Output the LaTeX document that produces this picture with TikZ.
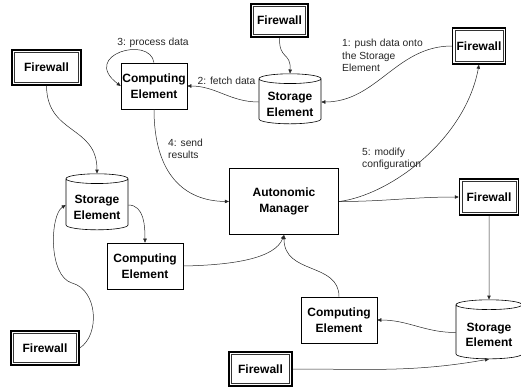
\documentclass[tikz,border=0pt]{standalone}
\usepackage{fontspec}
\setmainfont{Liberation Sans}
\usetikzlibrary{shapes.geometric,arrows.meta}
\newcommand{\stortext}{\raisebox{-3.5pt}[\height][\depth]{\begin{tabular}{@{}c@{}}Storage\\Element\end{tabular}}}
\begin{document}
\begin{tikzpicture}[x=1pt,y=-1pt,
  every node/.style={font=\fontsize{12}{15.5}\selectfont\bfseries},
  box/.style={draw=black, line width=0.6pt, fill=white, align=center, inner sep=1pt},
  fw/.style={draw=black, line width=1.5pt, fill=white, align=center, inner sep=1pt,
    path picture={\draw[line width=0.5pt, black!80]
      ([shift={(2.6pt,-2.6pt)}]path picture bounding box.north west) rectangle
      ([shift={(-2.6pt,2.6pt)}]path picture bounding box.south east);}},
  st/.style={cylinder, shape border rotate=90, draw=black, line width=0.6pt, fill=white,
    aspect=0.2, inner sep=1pt},
  conn/.style={draw=black!85, line width=0.5pt, -{Triangle[length=4pt,width=3.5pt]}},
  lbl/.style={font=\fontsize{10.3}{12.5}\selectfont, text=black!85, inner sep=0pt, align=left}
]
\useasboundingbox (0,0) rectangle (521,389);

% Firewalls
\node[fw, minimum width=69pt, minimum height=35pt] (fwTL) at (46.5,67.5) {Firewall};
\node[fw, minimum width=57pt, minimum height=33pt] (fwT) at (279.5,20.5) {Firewall};
\node[fw, minimum width=53pt, minimum height=36pt] (fwTR) at (479,46) {Firewall};
\node[fw, minimum width=59pt, minimum height=36pt] (fwMR) at (489,197) {Firewall};
\node[fw, minimum width=68pt, minimum height=34pt] (fwBL) at (45,348) {Firewall};
\node[fw, minimum width=63pt, minimum height=34pt] (fwBC) at (260.5,369) {Firewall};

% Computing elements
\node[box, minimum width=66pt, minimum height=46pt] (ceT) at (154,86) {Computing\\Element};
\node[box, minimum width=76pt, minimum height=46pt] (ceBL) at (145,266) {Computing\\Element};
\node[box, minimum width=76pt, minimum height=46pt] (ceBR) at (339,320) {Computing\\Element};

% Autonomic manager
\node[box, line width=1.3pt, minimum width=109pt, minimum height=66pt] (am) at (284,201.5) {Autonomic\\Manager};

% Storage elements
\node[st, minimum width=62pt, minimum height=50pt] (stT) at (290,102) {\stortext};
\node[st, minimum width=62pt, minimum height=56pt] (stL) at (97,205) {\stortext};
\node[st, minimum width=66pt, minimum height=59pt] (stR) at (489,332.5) {\stortext};

% Connectors
\draw[conn] (fwTL.south) .. controls (47,135) and (97,125) .. (stL.north);
\draw[conn] (fwT.south) .. controls (279,60) and (291,52) .. (stT.north);
\draw[conn] (fwTR.west) to[out=180,in=0] (stT.east);
\draw[conn] (stT.west) to[out=180,in=0] (ceT.east);
\draw[conn] (ceT.north) .. controls (150,35) and (80,55) .. (ceT.west);
\draw[conn] (ceT.south) .. controls (154,175) and (185,201) .. (am.west);
\draw[conn] (stL.east) to[out=0,in=90] (ceBL.north);
\draw[conn] (ceBL.east) .. controls (235,265) and (275,258) .. (am.south);
\draw[conn] (ceBR.north) .. controls (339,262) and (284,275) .. (am.south);
\draw[conn] (am.east) to[out=0,in=180] (fwMR.west);
\draw[conn] (am.east) .. controls (390,195) and (465,140) .. (fwTR.south);
\draw[conn] (fwMR.south) -- (stR.north);
\draw[conn] (stR.west) to[out=180,in=0] (ceBR.east);
\draw[conn] (fwBC.east) to[out=0,in=190] (stR.south);
\draw[conn] (fwBL.east) .. controls (100,335) and (98,290) .. (72,283)
  .. controls (48,276) and (50,215) .. (stL.west);

% Labels
\node[lbl] (l3) at (153,43) {3: process data};
\node[lbl] (l2) at (226.5,81) {2: fetch data};
\node[lbl, anchor=west] (l4) at (168,149) {4: send\\results};
\node[lbl, anchor=west] (l1) at (342,55.5) {1: push data onto\\the Storage\\Element};
\node[lbl, anchor=west] (l5) at (362,159) {5: modify\\configuration};
\end{tikzpicture}
\end{document}
